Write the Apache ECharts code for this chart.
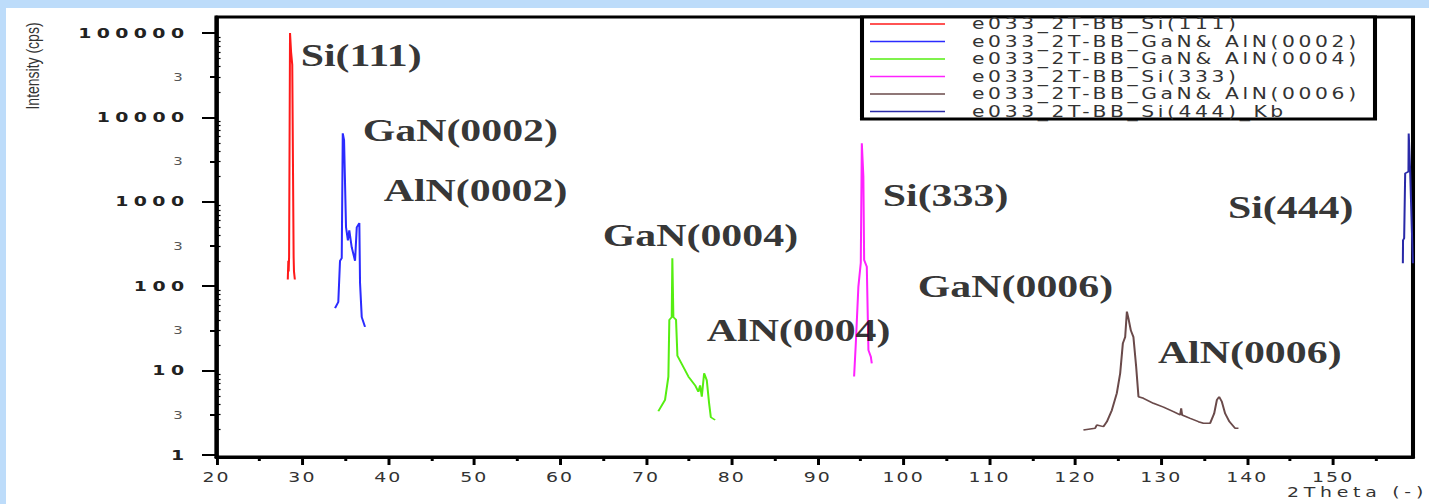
<!DOCTYPE html>
<html>
<head>
<meta charset="utf-8">
<script src="https://cdn.jsdelivr.net/npm/echarts@6/dist/echarts.min.js"></script>
<style>
html,body{margin:0;padding:0;width:1429px;height:504px;overflow:hidden;background:#bddcfa;}
#panel{position:absolute;left:6px;top:8px;right:0;bottom:0;background:#ffffff;}
#chart{position:absolute;left:0;top:0;width:1058px;height:504px;transform:scaleX(1.35066);transform-origin:0 0;}
</style>
</head>
<body>
<div id="panel"></div>
<div id="chart"></div>
<script>
// ---------- data ----------
const seriesNames = [
  'e033_2T-BB_Si(111)',
  'e033_2T-BB_GaN& AlN(0002)',
  'e033_2T-BB_GaN& AlN(0004)',
  'e033_2T-BB_Si(333)',
  'e033_2T-BB_GaN& AlN(0006)',
  'e033_2T-BB_Si(444)_Kb'
];
const seriesColors = ['#ff1a1a', '#2b2bff', '#55ee11', '#ff22ff', '#6a4a4a', '#2a2aa8'];

const si111 = [[28.30,120],[28.36,200],[28.40,150],[28.45,220],[28.56,100000],[28.68,60000],[28.82,42000],[28.98,220],[29.02,150],[29.12,120]];
const gan0002 = [[33.80,55],[34.18,65],[34.38,200],[34.58,215],[34.70,6500],[34.85,5400],[35.08,500],[35.30,350],[35.46,460],[35.74,290],[36.13,200],[36.33,500],[36.63,560],[36.71,110],[36.91,43],[37.29,33]];
const gan0004 = [[71.44,3.3],[72.22,4.5],[72.61,8.5],[72.72,40],[73.00,43],[73.07,215],[73.19,43],[73.50,40],[73.66,15],[74.17,12],[74.94,8.5],[75.72,6.7],[76.10,5.6],[76.30,6.7],[76.50,4.9],[76.77,9.3],[77.08,7.7],[77.35,4.1],[77.55,2.8],[78.05,2.6]];
const si333 = [[94.23,8.5],[94.43,21],[94.73,99],[95.01,190],[95.13,4950],[95.31,2000],[95.40,205],[95.71,170],[95.90,17.5],[96.18,14.6],[96.29,12.2]];
const gan0006 = [[120.93,1.98],[122.29,2.07],[122.49,2.27],[123.26,2.17],[123.66,2.48],[124.24,3.4],[124.82,5.4],[125.21,9.3],[125.52,21],[125.79,25],[125.99,50],[126.17,41.7],[126.45,30],[126.75,25],[127.07,11.1],[127.34,4.9],[127.92,4.7],[129.08,4.1],[130.25,3.7],[131.41,3.26],[132.19,2.98],[132.31,3.57],[132.42,2.98],[133.36,2.72],[134.32,2.48],[134.90,2.38],[135.68,2.38],[136.15,3.1],[136.47,4.5],[136.73,4.9],[137.05,4.27],[137.43,3.1],[137.93,2.48],[138.60,2.07],[138.98,2.07]];
const si444 = [[158.12,187],[158.14,350],[158.27,370],[158.39,2180],[158.77,2280],[158.80,6460],[158.97,2280],[159.17,465],[159.29,187]];
const seriesData = [si111, gan0002, gan0004, si333, gan0006, si444];

const annotations = [
  {text:'Si(111)',   x:29.72,  y:53700},
  {text:'GaN(0002)', x:36.94,  y:6950},
  {text:'AlN(0002)', x:39.39,  y:1350},
  {text:'GaN(0004)', x:64.89,  y:395},
  {text:'AlN(0004)', x:77.0,   y:29.5},
  {text:'Si(333)',   x:97.49,  y:1175},
  {text:'GaN(0006)', x:101.57, y:98},
  {text:'AlN(0006)', x:129.52, y:16.2},
  {text:'Si(444)',   x:137.67, y:849}
];

const xMajor = [20,30,40,50,60,70,80,90,100,110,120,130,140,150];
const xMinor = [25,35,45,55,65,75,85,95,105,115,125,135,145,155];
const yMajor = [1,10,100,1000,10000,100000];
const yThree = [3,30,300,3000,30000];
const yMinorMultipliers = [2,3,4,5,6,7,8,9];

const xMin = 20, xMax = 159.3;
const yMin = 0.947, yMax = 155000;
const yTitle = 'Intensity (cps)';
const xTitle = '2Theta (-)';

// ---------- layout (canvas is drawn narrow then stretched horizontally) ----------
const W = 1058;
const SX = 1429 / W;
const toPre = v => v / SX;

const yMinor = [];
yMajor.forEach(d => yMinorMultipliers.forEach(m => yMinor.push(m * d)));

const gridRect = {left: toPre(216.5), right: W - toPre(1413), top: 17, bottom: 47};

const chart = echarts.init(document.getElementById('chart'), null, {renderer: 'svg'});

const lineSeries = seriesNames.map((name, i) => ({
  name: name,
  type: 'line',
  xAxisIndex: 0,
  yAxisIndex: 0,
  data: seriesData[i],
  symbol: 'none',
  showSymbol: false,
  lineStyle: {color: seriesColors[i], width: 1.5},
  itemStyle: {color: seriesColors[i]},
  z: 3
}));

const annotationSeries = {
  type: 'scatter',
  xAxisIndex: 0,
  yAxisIndex: 0,
  silent: true,
  symbolSize: 1,
  itemStyle: {color: 'rgba(0,0,0,0)'},
  z: 5,
  label: {
    show: true,
    position: 'right',
    distance: 0,
    formatter: '{b}',
    fontFamily: 'Liberation Serif',
    fontWeight: 'bold',
    fontSize: 31,
    color: '#000'
  },
  data: annotations.map(a => ({name: a.text, value: [a.x, a.y]}))
};

const option = {
  animation: false,
  backgroundColor: 'transparent',
  grid: [0, 1, 2].map(i => Object.assign({
    show: i === 0,
    borderColor: '#000',
    borderWidth: 3,
    backgroundColor: 'transparent'
  }, gridRect)),
  xAxis: [
    {
      gridIndex: 0, type: 'value', min: xMin, max: xMax,
      axisLine: {show: true, onZero: false, lineStyle: {color: '#000', width: 3}},
      axisTick: {show: true, customValues: xMajor, length: 8, lineStyle: {color: '#000', width: 2.2}},
      axisLabel: {customValues: xMajor, margin: 13, fontFamily: 'DejaVu Sans', fontSize: 14, color: '#333',
                  formatter: v => String(Math.round(v))},
      splitLine: {show: false}
    },
    {
      gridIndex: 1, type: 'value', min: xMin, max: xMax,
      axisLine: {show: false, onZero: false},
      axisTick: {show: true, customValues: xMinor, length: 4, lineStyle: {color: '#000', width: 2.2}},
      axisLabel: {show: false},
      splitLine: {show: false}
    },
    {
      gridIndex: 2, type: 'value', min: xMin, max: xMax, show: false
    }
  ],
  yAxis: [
    {
      gridIndex: 0, type: 'log', logBase: 10, min: yMin, max: yMax,
      axisLine: {show: true, lineStyle: {color: '#000', width: 3}},
      axisTick: {show: true, customValues: yMajor, length: toPre(14.5), lineStyle: {color: '#000', width: 2}},
      axisLabel: {customValues: yMajor, margin: 20, fontFamily: 'DejaVu Sans', fontWeight: 'bold', fontSize: 14, color: '#222',
                  formatter: v => String(Math.round(v))},
      splitLine: {show: false}
    },
    {
      gridIndex: 1, type: 'log', logBase: 10, min: yMin, max: yMax,
      axisLine: {show: false},
      axisTick: {show: true, customValues: yThree, length: toPre(6.5), lineStyle: {color: '#000', width: 2}},
      axisLabel: {customValues: yThree, margin: 25, fontFamily: 'DejaVu Sans', fontSize: 11, color: '#555',
                  formatter: () => '3'},
      splitLine: {show: false}
    },
    {
      gridIndex: 2, type: 'log', logBase: 10, min: yMin, max: yMax,
      axisLine: {show: false},
      axisTick: {show: true, inside: true, customValues: yMinor, length: 3, lineStyle: {color: '#000', width: 1.2}},
      axisLabel: {show: false},
      splitLine: {show: false}
    }
  ],
  legend: {
    data: seriesNames,
    orient: 'vertical',
    left: toPre(870),
    top: 16.5,
    padding: 0,
    itemGap: 2.5,
    itemWidth: toPre(945) - toPre(870),
    itemHeight: 1.6,
    icon: 'rect',
    selectedMode: false,
    textStyle: {fontFamily: 'DejaVu Sans', fontSize: 15, color: '#333', lineHeight: 14, padding: [0, 0, 0, 15]},
    z: 6
  },
  graphic: [
    {
      type: 'rect', z: 1,
      shape: {x: toPre(862), y: 17, width: toPre(1375) - toPre(862), height: 102},
      style: {fill: '#fff', stroke: '#000', lineWidth: 3}
    },
    {
      type: 'text', x: toPre(33), y: 66, rotation: Math.PI / 2, z: 6,
      style: {text: yTitle, fontFamily: 'Liberation Sans', fontSize: 14, fill: '#333',
              align: 'center', verticalAlign: 'middle', textAlign: 'center', textVerticalAlign: 'middle'}
    },
    {
      type: 'text', x: toPre(1287), y: 492, z: 6,
      style: {text: xTitle, fontFamily: 'DejaVu Sans', fontSize: 14, fill: '#333',
              align: 'left', verticalAlign: 'middle', textAlign: 'left', textVerticalAlign: 'middle'}
    }
  ],
  tooltip: {show: false},
  series: lineSeries.concat([annotationSeries])
};

chart.setOption(option);

// widen the lettering like the original software font
function applySpacing() {
  document.querySelectorAll('#chart svg text').forEach(t => {
    const s = t.textContent;
    const cs = getComputedStyle(t);
    let ls = null;
    if (seriesNames.indexOf(s) >= 0) ls = 2.7;
    else if (s === xTitle) ls = 3.5;
    else if (/^\d+$/.test(s)) {
      const w = cs.fontWeight;
      const bold = w === 'bold' || parseInt(w, 10) >= 600;
      if (bold) ls = 4;
      else if (parseFloat(cs.fontSize) >= 13) ls = 1.5;
    }
    if (ls !== null) t.style.letterSpacing = ls + 'px';
  });
}
chart.on('finished', applySpacing);
applySpacing();
setTimeout(applySpacing, 0);
setTimeout(applySpacing, 100);
</script>
</body>
</html>
